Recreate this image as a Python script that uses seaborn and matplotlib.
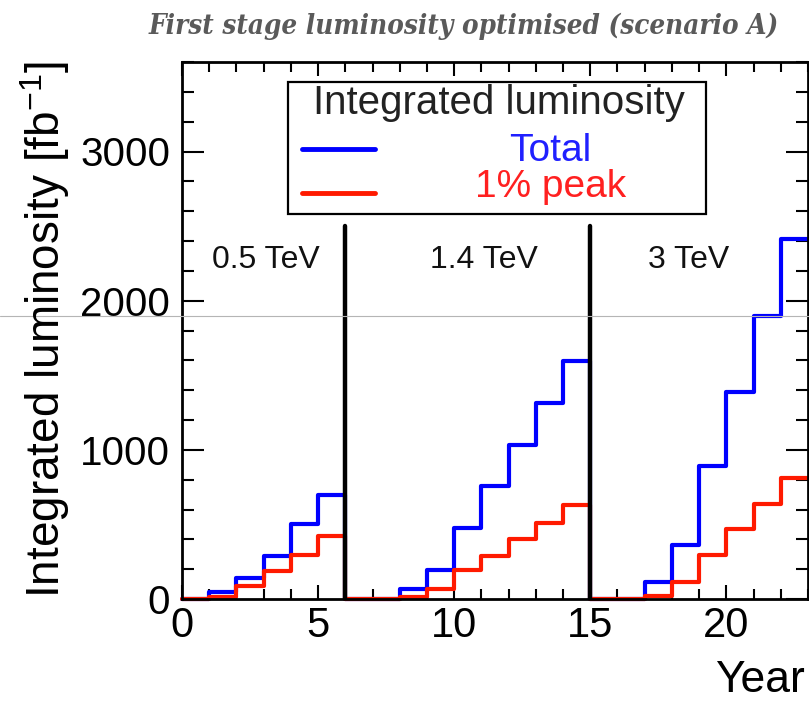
import numpy as np
import pandas as pd
import seaborn as sns
import matplotlib.pyplot as plt
from matplotlib.lines import Line2D
from matplotlib.patches import Rectangle
from matplotlib.ticker import MultipleLocator

# yearly bins, start of each year
years = list(range(23))
total_lumi = [0, 50, 140, 290, 500, 700,
              0, 0, 65, 195, 475, 760, 1035, 1315, 1595,
              0, 0, 115, 360, 890, 1390, 1900, 2415]
peak_lumi = [0, 15, 85, 185, 295, 420,
             0, 0, 15, 65, 195, 290, 400, 510, 630,
             0, 0, 20, 115, 295, 470, 640, 810]

stage_names = ["0.5 TeV", "1.4 TeV", "3 TeV"]
stage_label_x = [3.1, 11.1, 18.6]
stage_ends = [6, 15]
stage_line_top = 2500

data = pd.DataFrame({"year": np.array(years) + 0.5,
                     "total": total_lumi,
                     "peak": peak_lumi})

sns.set_style("ticks")
plt.rcParams["font.family"] = ["Liberation Sans", "DejaVu Sans"]
plt.rcParams["mathtext.fontset"] = "custom"
plt.rcParams["mathtext.rm"] = "Liberation Sans"
plt.rcParams["mathtext.it"] = "Liberation Sans:italic"
plt.rcParams["text.color"] = "black"
plt.rcParams["axes.labelcolor"] = "black"
plt.rcParams["xtick.color"] = "black"
plt.rcParams["ytick.color"] = "black"
plt.rcParams["axes.edgecolor"] = "black"

W, H = 809, 704
fig = plt.figure(figsize=(W / 100, H / 100), dpi=100)
ax = fig.add_axes([182 / W, 1 - 599 / H, 626 / W, 537 / H])

sns.histplot(data=data, x="year", weights="total", bins=len(years),
             binrange=(0, len(years)), element="step",
             fill=False, color="#0000ff", linewidth=3, ax=ax)
sns.histplot(data=data, x="year", weights="peak", bins=len(years),
             binrange=(0, len(years)), element="step",
             fill=False, color="#ff1a00", linewidth=3, ax=ax)
for ln in ax.lines:
    ln.set_clip_on(False)

for xe in stage_ends:
    ax.plot([xe, xe], [0, stage_line_top], color="black", lw=3.2, zorder=5)
for name, xs in zip(stage_names, stage_label_x):
    ax.text(xs, 2270, name, ha="center", va="center", fontsize=23, color="#111111")

ax.set_xlim(0, 23)
ax.set_ylim(0, 3600)
ax.xaxis.set_major_locator(MultipleLocator(5))
ax.xaxis.set_minor_locator(MultipleLocator(1))
ax.yaxis.set_major_locator(MultipleLocator(1000))
ax.yaxis.set_minor_locator(MultipleLocator(200))
ax.tick_params(which="both", direction="in", top=True, right=True, width=1.5)
ax.tick_params(axis="y", which="major", length=16, pad=8.6, labelsize=29)
ax.tick_params(axis="y", which="minor", length=8.5)
ax.tick_params(axis="x", which="major", length=10, pad=5, labelsize=30)
ax.tick_params(axis="x", which="minor", length=7)
for sp in ax.spines.values():
    sp.set_linewidth(2)

ax.set_ylabel("")
ax.set_xlabel("Year", loc="right", fontsize=32)
ax.xaxis.set_label_coords((805 - 182) / 626, (599 - 660) / 537)
fig.text(45 / W, 1 - 330 / H, r"Integrated luminosity [fb$^{\mathrm{-1}}$]",
         rotation=90, ha="center", va="center", fontsize=33)

# legend box
ax.add_patch(Rectangle((0.1693, 0.717), 0.837 - 0.1693, 0.9628 - 0.717,
                       transform=ax.transAxes, fill=False, lw=1.6,
                       edgecolor="black", zorder=6))
ax.text(0.506, (599 - 114) / 537, "Integrated luminosity", transform=ax.transAxes,
        ha="center", va="baseline", fontsize=29, color="#222222", zorder=7)
ax.text(0.588, (599 - 161) / 537, "Total", transform=ax.transAxes,
        ha="center", va="baseline", fontsize=28, color="#2020ff", zorder=7)
ax.text(0.588, (599 - 197) / 537, "1% peak", transform=ax.transAxes,
        ha="center", va="baseline", fontsize=28, color="#ff2020", zorder=7)
for yy, col in [((599 - 149) / 537, "#0000ff"), ((599 - 193) / 537, "#ff1a00")]:
    ax.add_line(Line2D([0.1917, 0.3083], [yy, yy], transform=ax.transAxes,
                       color=col, lw=3.5, zorder=7))

title = fig.text(464 / W, 1 - 26 / H, "First stage luminosity optimised (scenario A)",
                 ha="center", va="center", fontsize=20, color="#5a5a5a",
                 family="DejaVu Serif", style="italic", weight="bold",
                 fontstretch="condensed")
fig.canvas.draw()
tw = title.get_window_extent().width
title.set_fontsize(20 * 628 / tw)

fig.add_artist(Line2D([0, 1], [1 - 316 / H, 1 - 316 / H], color="#b5b5b5", lw=0.8))

fig.savefig("out.png", dpi=100)
